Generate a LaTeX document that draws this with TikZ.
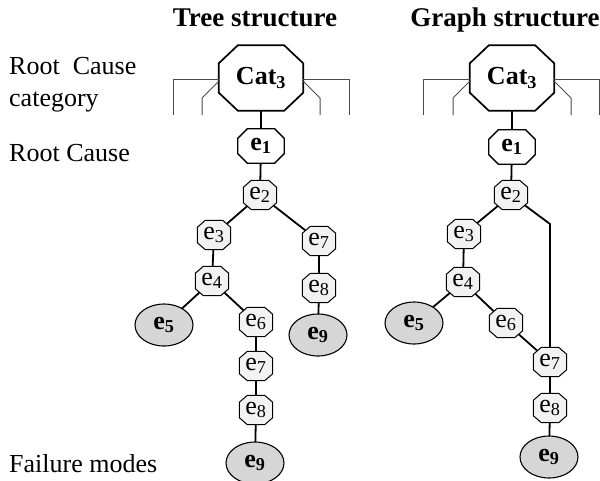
\documentclass[tikz,border=0pt]{standalone}
\usepackage{fontspec}
\setmainfont{Liberation Serif}
\usetikzlibrary{shapes.geometric}

\pgfdeclarelayer{links}
\pgfdeclarelayer{outlines}
\pgfsetlayers{links,outlines,main}

\tikzset{
  octtext/.style={rectangle, inner sep=0pt, font=\fontsize{26}{30}\selectfont},
  catbox/.style={octtext, minimum width=84pt, minimum height=65pt,
    font=\fontsize{26}{30}\selectfont\bfseries},
  rootbox/.style={octtext, minimum width=46pt, minimum height=34pt,
    font=\fontsize{26}{30}\selectfont\bfseries},
  evbox/.style={octtext, minimum width=33pt, minimum height=29pt},
  catshape/.style={draw=black, line width=1.7pt, fill=white},
  rootshape/.style={draw=black, line width=1.3pt, fill=white},
  evshape/.style={draw=black, line width=1pt, fill=black!5},
  failnode/.style={ellipse, draw=black, line width=1.1pt, fill=black!16, inner sep=0pt,
    minimum width=58pt, minimum height=42pt,
    font=\fontsize{26}{30}\selectfont\bfseries},
  link/.style={draw=black, line width=1.8pt},
  bracket/.style={draw=black!70, line width=1pt},
  heading/.style={anchor=base, font=\fontsize{27}{30}\selectfont\bfseries},
  rowlabel/.style={anchor=base west, inner sep=0pt, font=\fontsize{26}{30}\selectfont}
}

% octagon outline around a rectangular node: [style]{node}{x chamfer}{y chamfer}
\newcommand\octoutline[4][]{%
  \path[#1] ([xshift=#3]#2.north west) -- ([xshift=-#3]#2.north east)
    -- ([yshift=-#4]#2.north east) -- ([yshift=#4]#2.south east)
    -- ([xshift=-#3]#2.south east) -- ([xshift=#3]#2.south west)
    -- ([yshift=#4]#2.south west) -- ([yshift=-#4]#2.north west) -- cycle;}

\begin{document}
\begin{tikzpicture}[x=1pt, y=-1pt]
\useasboundingbox (0,0) rectangle (600,480);

% column headings and row labels
\node[heading] (ht) at (255,26) {Tree structure};
\node[heading] (hg) at (505,26) {Graph structure};
\node[rowlabel] (l1) at (9,74) {Root\ \ Cause};
\node[rowlabel] (l2) at (9,106) {category};
\node[rowlabel] (l3) at (9,161) {Root Cause};
\node[rowlabel] (l4) at (9,472) {Failure modes};

% ---------------- tree structure ----------------
\node[catbox] (tc) at (261,78) {Cat\textsubscript{3}};
\node[rootbox] (t1) at (261,146) {e\textsubscript{1}};
\node[evbox] (t2) at (260,195) {e\textsubscript{2}};
\node[evbox] (t3) at (214,235) {e\textsubscript{3}};
\node[evbox] (t4) at (212,281) {e\textsubscript{4}};
\node[failnode] (t5) at (164,325) {e\textsubscript{5}};
\node[evbox] (t6) at (256,322) {e\textsubscript{6}};
\node[evbox] (t7b) at (256,366) {e\textsubscript{7}};
\node[evbox] (t8b) at (256,410) {e\textsubscript{8}};
\node[failnode] (t9b) at (255,463) {e\textsubscript{9}};
\node[evbox] (t7a) at (319,241) {e\textsubscript{7}};
\node[evbox] (t8a) at (319,288) {e\textsubscript{8}};
\node[failnode] (t9a) at (318,335) {e\textsubscript{9}};

% ---------------- graph structure ----------------
\node[catbox] (gc) at (512,78) {Cat\textsubscript{3}};
\node[rootbox] (g1) at (512,147) {e\textsubscript{1}};
\node[evbox] (g2) at (511,195) {e\textsubscript{2}};
\node[evbox] (g3) at (464,234) {e\textsubscript{3}};
\node[evbox] (g4) at (463,282) {e\textsubscript{4}};
\node[failnode] (g5) at (414,323) {e\textsubscript{5}};
\node[evbox] (g6) at (506,323) {e\textsubscript{6}};
\node[evbox] (g7) at (550,362) {e\textsubscript{7}};
\node[evbox] (g8) at (550,408) {e\textsubscript{8}};
\node[failnode] (g9) at (549,457) {e\textsubscript{9}};

% octagonal event boxes
\begin{pgfonlayer}{outlines}
  \octoutline[catshape]{tc}{19pt}{18pt}
  \octoutline[catshape]{gc}{19pt}{18pt}
  \octoutline[rootshape]{t1}{9.5pt}{9.5pt}
  \octoutline[rootshape]{g1}{9.5pt}{9.5pt}
  \foreach \n in {t2,t3,t4,t6,t7b,t8b,t7a,t8a,g2,g3,g4,g6,g7,g8}
    {\octoutline[evshape]{\n}{8pt}{7pt}}
\end{pgfonlayer}

% sibling categories around each Cat3
\coordinate (tlo) at (173,79);  \coordinate (tlob) at (173,115);
\coordinate (tli) at (219,81);  \coordinate (tlik) at (202,98); \coordinate (tlib) at (202,115);
\coordinate (tro) at (349,79);  \coordinate (trob) at (349,115);
\coordinate (tri) at (303,81);  \coordinate (trik) at (320,98); \coordinate (trib) at (320,115);
\draw[bracket] (tc.west |- tlo) -- (tlo) -- (tlob);
\draw[bracket] (tli) -- (tlik) -- (tlib);
\draw[bracket] (tc.east |- tro) -- (tro) -- (trob);
\draw[bracket] (tri) -- (trik) -- (trib);

\coordinate (glo) at (423,79);  \coordinate (glob) at (423,115);
\coordinate (gli) at (470,81);  \coordinate (glik) at (453,98); \coordinate (glib) at (453,115);
\coordinate (gro) at (599.5,79); \coordinate (grob) at (599.5,115);
\coordinate (gri) at (554,81);  \coordinate (grik) at (571,98); \coordinate (grib) at (571,115);
\draw[bracket] (gc.west |- glo) -- (glo) -- (glob);
\draw[bracket] (gli) -- (glik) -- (glib);
\draw[bracket] (gc.east |- gro) -- (gro) -- (grob);
\draw[bracket] (gri) -- (grik) -- (grib);

% connectors, drawn under the boxes from centre to centre
\begin{pgfonlayer}{links}
  \draw[link] (tc.center) -- (t1.center);
  \draw[link] (t1.center) -- (t2.center);
  \draw[link] (t2.center) -- (t3.center);
  \draw[link] (t2.center) -- (t7a.center);
  \draw[link] (t3.center) -- (t4.center);
  \draw[link] (t4.center) -- (t5.center);
  \draw[link] (t4.center) -- (t6.center);
  \draw[link] (t6.center) -- (t7b.center);
  \draw[link] (t7b.center) -- (t8b.center);
  \draw[link] (t8b.center) -- (t9b.center);
  \draw[link] (t7a.center) -- (t8a.center);
  \draw[link] (t8a.center) -- (t9a.center);

  \coordinate (gbend) at (550,224);
  \draw[link] (gc.center) -- (g1.center);
  \draw[link] (g1.center) -- (g2.center);
  \draw[link] (g2.center) -- (g3.center);
  \draw[link] (g2.center) -- (gbend) -- (g7.center);
  \draw[link] (g3.center) -- (g4.center);
  \draw[link] (g4.center) -- (g5.center);
  \draw[link] (g4.center) -- (g6.center);
  \draw[link] (g6.center) -- (g7.center);
  \draw[link] (g7.center) -- (g8.center);
  \draw[link] (g8.center) -- (g9.center);
\end{pgfonlayer}
\end{tikzpicture}
\end{document}
